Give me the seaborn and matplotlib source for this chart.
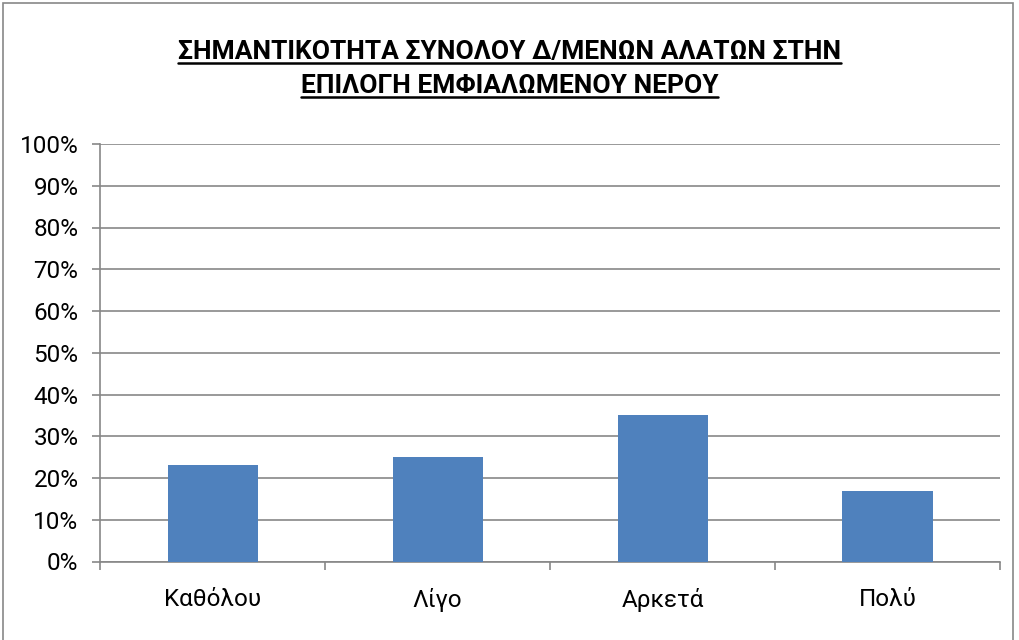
import matplotlib
matplotlib.use("Agg")
import matplotlib.pyplot as plt
import seaborn as sns
import pandas as pd
from matplotlib.lines import Line2D
from matplotlib.patches import Rectangle
from matplotlib.ticker import FuncFormatter

# data (percent of answers)
categories = ["Καθόλου", "Λίγο", "Αρκετά", "Πολύ"]
values = [23, 25, 35, 17]
title_lines = ["ΣΗΜΑΝΤΙΚΟΤΗΤΑ ΣΥΝΟΛΟΥ Δ/ΜΕΝΩΝ ΑΛΑΤΩΝ ΣΤΗΝ",
               "ΕΠΙΛΟΓΗ ΕΜΦΙΑΛΩΜΕΝΟΥ ΝΕΡΟΥ"]

df = pd.DataFrame({"answer": categories, "pct": values})

sns.set_style("white")
plt.rcParams["font.family"] = ["Roboto", "DejaVu Sans"]
plt.rcParams["text.color"] = "black"

grey = "#878787"
fig = plt.figure(figsize=(10.19, 6.40), dpi=100)
ax = fig.add_axes([100 / 1019, 1 - 561.5 / 640, 900 / 1019, 417.5 / 640])

sns.barplot(data=df, x="answer", y="pct", color="#4F81BD", width=0.4,
            saturation=1, linewidth=0, ax=ax, zorder=3)

ax.set_xlim(-0.5, 3.5)
ax.set_ylim(0, 100)
ax.set_yticks(range(0, 101, 10))
ax.yaxis.set_major_formatter(FuncFormatter(lambda v, p: f"{int(v)}%"))
ax.grid(axis="y", color=grey, linewidth=1.2, zorder=0)
ax.set_axisbelow(True)
ax.set_xlabel("")
ax.set_ylabel("")

for s in ["top", "right"]:
    ax.spines[s].set_visible(False)
for s in ["left", "bottom"]:
    ax.spines[s].set_color(grey)
    ax.spines[s].set_linewidth(1.2)

ax.tick_params(axis="y", length=5.5, width=1.2, color=grey, pad=10,
               labelsize=17.5, labelcolor="black", left=True)
ax.tick_params(axis="x", which="major", length=0, pad=19, labelsize=17.5,
               labelcolor="black")
ax.set_xticks([-0.5, 0.5, 1.5, 2.5, 3.5], minor=True)
ax.tick_params(axis="x", which="minor", length=5.5, width=1.2, color=grey,
               bottom=True)

# title lines, bold and underlined
fig.canvas.draw()
renderer = fig.canvas.get_renderer()
for y_px, line in zip([52, 86], title_lines):
    t = fig.text(0.5, 1 - y_px / 640, line, ha="center", va="center",
                 fontsize=19, fontweight="bold", color="black")
    bb = t.get_window_extent(renderer=renderer)
    x0, x1 = bb.x0 / fig.bbox.width, bb.x1 / fig.bbox.width
    yu = (bb.y0 + 1) / fig.bbox.height
    fig.add_artist(Line2D([x0, x1], [yu, yu], color="black", linewidth=1.8))

# outer chart border
fig.add_artist(Rectangle((3 / 1019, -0.01), 1010 / 1019, 1 - 3 / 640 + 0.01,
                         fill=False, edgecolor=grey, linewidth=1.2,
                         transform=fig.transFigure))

fig.savefig("out.png", dpi=100)
